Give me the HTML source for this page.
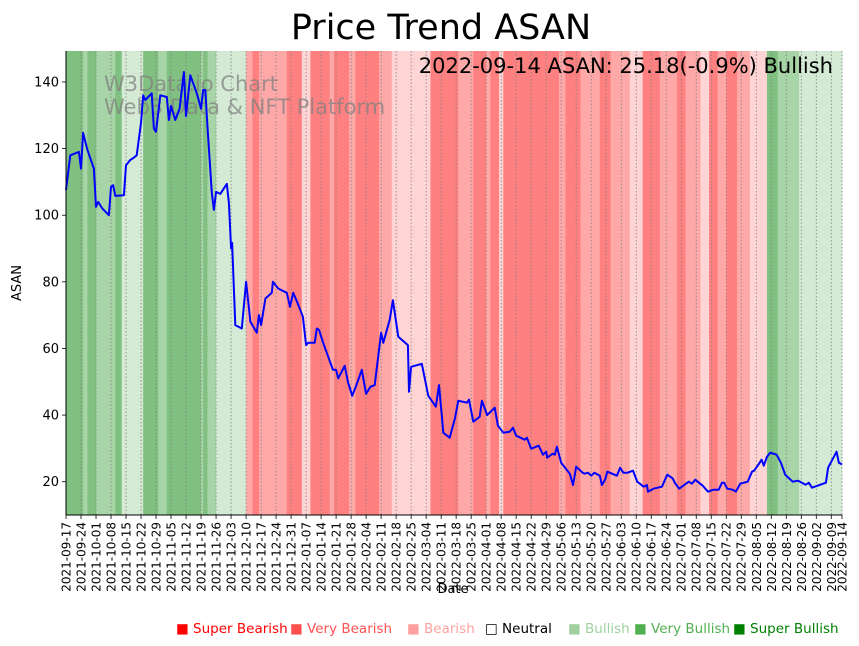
<!DOCTYPE html>
<html><head><meta charset="utf-8"><style>
html,body{margin:0;padding:0;background:#fff;}
svg{display:block;font-family:"DejaVu Sans","Liberation Sans",sans-serif;}
</style></head><body>
<svg id="chart" width="859" height="646" viewBox="0 0 859 646" xmlns="http://www.w3.org/2000/svg">
<text x="441" y="39" font-size="35" text-anchor="middle">Price Trend ASAN</text>
<g id="bands"></g>
<g id="grid"></g>
<text x="104" y="91" font-size="21" fill="#808080" fill-opacity="0.75">W3Data.io Chart</text>
<text x="104" y="114" font-size="21" fill="#808080" fill-opacity="0.75">Web3 Data &amp; NFT Platform</text>
<path id="priceLine" fill="none" stroke="#0000ff" stroke-width="2" stroke-linejoin="round"/>
<text x="833" y="73" font-size="21" text-anchor="end">2022-09-14 ASAN: 25.18(-0.9%) Bullish</text>
<g id="axes"></g>
<text x="453" y="593" font-size="13" text-anchor="middle">Date</text>
<text transform="translate(21,283) rotate(-90)" font-size="13" text-anchor="middle">ASAN</text>
<g id="legend" font-size="13.5"></g>
</svg>
<script>
const startDate = "2021-09-17";
const totalDays = 362;
const bandStartDays = [0,8,10,14,23,26,36,43,47,63,64,66,70,84,87,90,103,110,114,123,125,132,135,146,152,170,183,190,196,198,202,204,230,233,240,249,254,263,269,277,285,289,296,300,304,308,313,319,327,332,342];
const bandLevels = [3,2,3,2,3,1,3,2,3,2,3,2,1,-2,-3,-2,-3,-1,-3,-2,-3,-2,-3,-2,-1,-3,-2,-3,-2,-3,-1,-3,-2,-3,-2,-3,-2,-1,-3,-2,-3,-2,-1,-3,-2,-3,-2,-1,3,2,1];
const priceDays = [0,2,6,7,8,10,13,14,15,17,20,21,22,23,27,28,30,31,33,35,36,37,40,41,42,44,47,48,49,51,53,55,56,58,61,63,64,65,66,68,69,70,72,75,76,77,77.5,79,82,84,86,89,90,91,93,96,96.5,99,103,104.5,106,108,110.5,112,113,116,117,118,120,124.5,126,127,130,131.5,133.5,135,138,140,142,144,147,148,151,152.5,155,159.5,160,161,166,169,172.5,174,175.5,176,179,181.5,183,187,188,190,193,194,196.5,200,201.5,204,207,208.5,210,214,215,217,220.5,222.5,224,224.5,227,228,229,231,235,236.5,238,241,242,243.5,245,246.5,249,250,251.5,252.5,257,258.5,260,262,264.5,266.5,269.5,271,271.5,274,278,280.5,283,284,286,290.5,292,293.5,297,299.5,302,304.5,306,307,308.5,311,312.5,314.5,318,320,321,323,324.5,325.5,327,328.5,331.5,333.5,335.5,339,341.5,345,346.5,348,354.5,355.5,359.5,360.5,362];
const priceValues = [107.6,118,119,114,124.7,119.6,114,102.5,104,102,100,108.5,109,105.8,106,115,116.6,117,118,127.7,136,134.6,136.6,126,125,136,135.5,128.6,132.8,128.6,132,143,129.8,142,136.6,132,137.6,137.6,126.5,106.7,101.6,107,106.4,109.4,103.7,90,91.7,67,66,80,68,64.7,70,67,75,76.7,80,78,76.7,72.5,76.7,73.7,69.5,61,61.7,61.7,66,65.6,61.7,53.6,53.6,51,54.8,50,45.8,48.2,53.6,46.4,48.5,49,64.7,61.7,68.6,74.5,63.5,61,47,54.5,55.4,45.8,42.5,49,38.6,34.7,33.2,39.2,44.3,43.7,44.6,38,39.5,44.3,40,42.2,36.8,34.7,35,36.2,33.8,32.6,33.2,29.9,30.8,28.1,29,27.2,28.4,28.1,30.5,25.7,22.4,19,24.5,22.7,22.4,22.7,21.8,22.7,21.8,19,20.6,23,21.8,24.2,22.7,22.7,23.3,20,18.5,19,17,17.9,18.5,22.1,21,19.7,17.9,20,19.4,20.6,18.8,17,17.6,17.6,19.7,19.7,17.9,17.6,17,19.4,20,23,23.3,25.1,26.6,24.8,27.5,28.7,28.1,25.7,22.1,20,20.3,19.1,19.7,18.2,19.7,24.2,29,25.7,25.18];
const yTicks = [20,40,60,80,100,120,140];
const legendLabels = ["Super Bearish","Very Bearish","Bearish","Neutral","Bullish","Very Bullish","Super Bullish"];
const legendColors = ["#ff0000","#ff5050","#ffa0a0","#000000","#a0d0a0","#50b050","#008000"];

const NS = "http://www.w3.org/2000/svg";
const L = 66, R = 842, T = 51, B = 515, yMin = 10, yMax = 149.3;
const xScale = d => L + (d / totalDays) * (R - L);
const yScale = v => B - (v - yMin) / (yMax - yMin) * (B - T);
const levelFill = {"-3":"#ff8080","-2":"#ffa8a8","-1":"#ffd4d4","1":"#d4ead4","2":"#a8d5a8","3":"#80c080"};
function mk(tag, attrs, parent) { const e = document.createElementNS(NS, tag); for (const k in attrs) e.setAttribute(k, attrs[k]); parent.appendChild(e); return e; }

const bands = document.getElementById("bands");
bandStartDays.forEach((d, i) => {
  const end = i + 1 < bandStartDays.length ? bandStartDays[i + 1] : totalDays;
  const r = mk("rect", {x: xScale(d), y: T, width: xScale(end) - xScale(d) + 0.3, height: B - T, fill: levelFill[bandLevels[i]]}, bands);
  
  
});

function fmt(d) { const dt = new Date(startDate + "T00:00:00Z"); dt.setUTCDate(dt.getUTCDate() + d); return dt.toISOString().slice(0, 10); }
const tickDays = [];
for (let d = 0; d < totalDays - 3; d += 7) tickDays.push(d);
tickDays.push(totalDays);

const grid = document.getElementById("grid");
const axes = document.getElementById("axes");
tickDays.forEach(d => {
  const x = xScale(d);
  const g = mk("line", {x1: x, x2: x, y1: T, y2: B, stroke: "#808080", "stroke-width": 0.8, "stroke-dasharray": "1.5,2"}, grid);
  
  
  const t = mk("line", {x1: x, x2: x, y1: B, y2: B + 4, stroke: "#000", "stroke-width": 0.8}, axes);
  
  
  const lb = mk("text", {transform: `translate(${x + 4.5},${B + 7}) rotate(-90)`, "font-size": 12, "text-anchor": "end"}, axes);
  lb.textContent = fmt(d);
  
  
});
yTicks.forEach(v => {
  const y = yScale(v);
  const t = mk("line", {x1: L - 4, x2: L, y1: y, y2: y, stroke: "#000", "stroke-width": 0.8}, axes);
  
  
  const lb = mk("text", {x: L - 7, y: y + 4.5, "font-size": 13, "text-anchor": "end"}, axes);
  lb.textContent = v;
  
  
});
const yAxis = mk("line", {x1: L, x2: L, y1: T, y2: B, stroke: "#000", "stroke-width": 1}, axes);


const xAxis = mk("line", {x1: L, x2: R, y1: B, y2: B, stroke: "#000", "stroke-width": 1}, axes);



document.getElementById("priceLine").setAttribute("d", priceDays.map((d, i) => (i ? "L" : "M") + xScale(d).toFixed(1) + "," + yScale(priceValues[i]).toFixed(1)).join(""));

const legend = document.getElementById("legend");
const legendX = [176, 290, 407, 485, 568, 634, 733];
legendLabels.forEach((lab, i) => {
  const t = mk("text", {x: legendX[i], y: 633, fill: legendColors[i]}, legend);
  t.textContent = (i === 3 ? "\u25A1 " : "\u25A0 ") + lab;
  
  
});
</script>
</body></html>
